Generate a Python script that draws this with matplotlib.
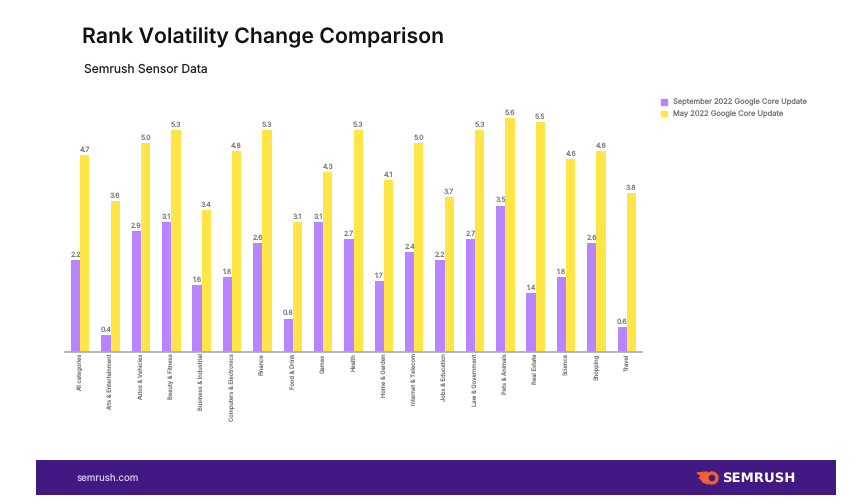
import matplotlib
matplotlib.use('Agg')
import matplotlib.pyplot as plt
from matplotlib.patches import Rectangle, Wedge, Polygon
import numpy as np

W, H = 863, 504

categories = ['All categories', 'Arts & Entertainment', 'Autos & Vehicles', 'Beauty & Fitness',
              'Business & Industrial', 'Computers & Electronics', 'Finance', 'Food & Drink',
              'Games', 'Health', 'Home & Garden', 'Internet & Telecom', 'Jobs & Education',
              'Law & Government', 'Pets & Animals', 'Real Estate', 'Science', 'Shopping', 'Travel']
sep_2022 = [2.2, 0.4, 2.9, 3.1, 1.6, 1.8, 2.6, 0.8, 3.1, 2.7, 1.7, 2.4, 2.2, 2.7, 3.5, 1.4, 1.8, 2.6, 0.6]
may_2022 = [4.7, 3.6, 5.0, 5.3, 3.4, 4.8, 5.3, 3.1, 4.3, 5.3, 4.1, 5.0, 3.7, 5.3, 5.6, 5.5, 4.6, 4.8, 3.8]

PURPLE = '#B884FF'
YELLOW = '#FFE646'
BANNER = '#421983'
ORANGE = '#F2602B'

plt.rcParams['font.family'] = ['Inter', 'DejaVu Sans']
plt.rcParams['text.hinting'] = 'no_hinting'

fig = plt.figure(figsize=(W / 100, H / 100), dpi=100)


def box(left, top, right, bottom):
    # pixel box -> figure fractions
    return [left / W, 1 - bottom / H, (right - left) / W, (bottom - top) / H]


# bars
ax = fig.add_axes(box(65, 110, 642, 352))
x = np.arange(len(categories))
bw = 0.305
ax.bar(x - bw / 2, sep_2022, bw, color=PURPLE)
ax.bar(x + bw / 2, may_2022, bw, color=YELLOW)
for i in x:
    ax.text(i - bw / 2, sep_2022[i] + 0.04, f'{sep_2022[i]:.1f}', ha='center', va='bottom',
            fontsize=5, color='#777777')
    ax.text(i + bw / 2, may_2022[i] + 0.04, f'{may_2022[i]:.1f}', ha='center', va='bottom',
            fontsize=5, color='#777777')
ax.set_xlim(-0.5, len(categories) - 0.5)
ax.set_ylim(0, 242 / 41.85)
ax.set_yticks([])
ax.set_xticks(x)
ax.set_xticklabels(categories, rotation=90, fontsize=4.2, color='#777777')
ax.tick_params(axis='x', length=0, pad=1)
for s in ['top', 'left', 'right']:
    ax.spines[s].set_visible(False)
ax.spines['bottom'].set_color('#AAAAAA')
ax.spines['bottom'].set_linewidth(1.2)

# overlay in pixel coordinates for header, legend and footer
ov = fig.add_axes([0, 0, 1, 1], zorder=-1)
ov.set_xlim(0, W)
ov.set_ylim(H, 0)
ov.axis('off')

ov.text(82, 37, 'Rank Volatility Change Comparison', fontsize=15.3, fontweight='semibold',
        color='#111111', va='center', ha='left')
ov.text(84, 70, 'Semrush Sensor Data', fontsize=8.7, color='#222222', va='center', ha='left')

# legend
ov.add_patch(Rectangle((661, 99), 5.5, 5.5, color=PURPLE))
ov.text(673, 102.5, 'September 2022 Google Core Update', fontsize=5.4, color='#777777', va='center')
ov.add_patch(Rectangle((661, 110.5), 5.5, 5.5, color=YELLOW))
ov.text(673, 114, 'May 2022 Google Core Update', fontsize=5.4, color='#777777', va='center')

# footer banner
ov.add_patch(Rectangle((36, 460), 800, 35, facecolor=BANNER, linewidth=0))
ov.text(77, 478, 'semrush.com', fontsize=7, color='#D9C9EE', va='center')

# logo
ov.add_patch(Wedge((712, 478), 6, 0, 360, width=2, color=ORANGE))
ov.add_patch(Polygon([(697, 473), (707, 472), (708, 484), (703, 482), (701, 479), (699, 478),
                      (702, 476)], closed=True, color=ORANGE))
ov.text(722, 478.5, 'SEMRUSH', fontsize=9.5, fontweight='bold', color='white', va='center',
        family='DejaVu Sans')

fig.savefig('out.png', dpi=100)
